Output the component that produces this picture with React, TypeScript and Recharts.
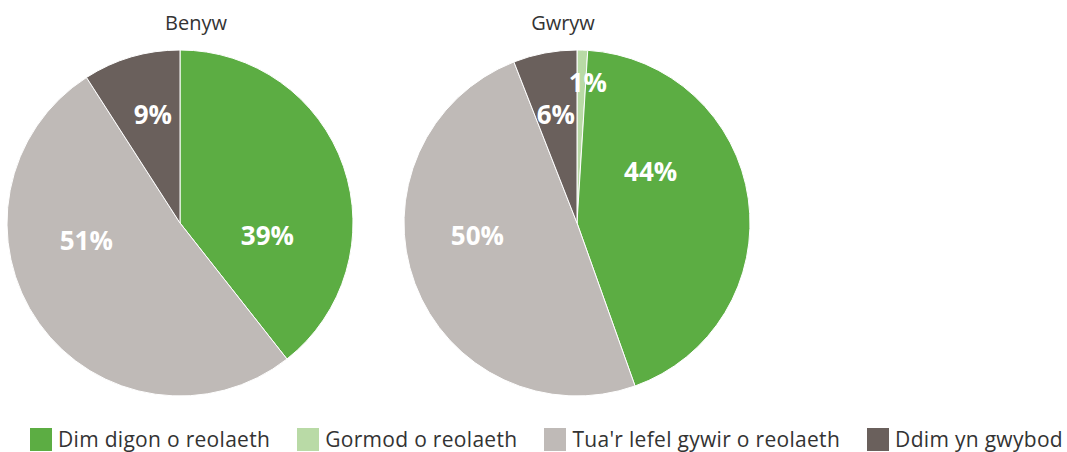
import React from "react";

// Library
import { PieChart, Pie, Cell, Legend } from "recharts";

const categories = [
  "Gormod o reolaeth",
  "Dim digon o reolaeth",
  "Tua'r lefel gywir o reolaeth",
  "Ddim yn gwybod",
];
const legendOrder = [1, 0, 2, 3];
const benywValues = [0, 39, 51, 9];
const gwrywValues = [1, 44, 50, 6];
const pieTitles = ["Benyw", "Gwryw"];

const colors = ["#b9daa6", "#5cad43", "#bfbab7", "#6a605c"];

// label placement: [angle clockwise from 12 o'clock, fraction of radius]
const labelLayout: number[][][] = [
  [[0, 0], [98, 0.51], [260, 0.55], [346, 0.65]],
  [[4.4, 0.82], [55, 0.52], [263, 0.58], [349, 0.64]],
];

const FONT = "'Open Sans', 'Noto Sans', sans-serif";
const RADIUS = 173;

const toRows = (values: number[]) =>
  categories.map((name, i) => ({ name, value: values[i] }));

function makeLabel(pieIndex: number) {
  return (props: any) => {
    const { cx, cy, index, value } = props;
    if (!value) return null;
    const [deg, frac] = labelLayout[pieIndex][index];
    const rad = (deg * Math.PI) / 180;
    const x = cx + Math.sin(rad) * RADIUS * frac;
    const y = cy - Math.cos(rad) * RADIUS * frac;
    return (
      <text
        x={x}
        y={y}
        fill="#ffffff"
        fontFamily={FONT}
        fontSize={26}
        fontWeight={700}
        textAnchor="middle"
        dominantBaseline="central"
      >
        {value}%
      </text>
    );
  };
}

function LegendBox() {
  return (
    <div
      style={{
        display: "flex",
        justifyContent: "space-between",
        padding: "0 4px 0 30px",
        fontFamily: FONT,
        fontSize: 21,
        letterSpacing: 0.3,
        color: "#333333",
      }}
    >
      {legendOrder.map((i) => (
        <div key={i} style={{ display: "flex", alignItems: "center" }}>
          <span
            style={{
              width: 22,
              height: 23,
              background: colors[i],
              marginRight: 6,
              display: "inline-block",
            }}
          />
          <span style={{ lineHeight: "23px" }}>{categories[i]}</span>
        </div>
      ))}
    </div>
  );
}

export default function App() {
  const pies = [benywValues, gwrywValues];
  const centers = [180, 577];
  return (
    <div style={{ position: "absolute", left: 0, top: 0 }}>
      <PieChart
        width={1067}
        height={452}
        margin={{ top: 0, right: 0, bottom: 0, left: 0 }}
      >
        {pieTitles.map((t, i) => (
          <text
            key={t}
            x={centers[i] + (i === 0 ? 16 : -14)}
            y={22}
            textAnchor="middle"
            dominantBaseline="central"
            fontFamily={FONT}
            fontSize={20}
            fill="#333333"
          >
            {t}
          </text>
        ))}
        {pies.map((vals, p) => (
          <Pie
            key={p}
            data={toRows(vals)}
            dataKey="value"
            nameKey="name"
            cx={centers[p]}
            cy={223}
            outerRadius={RADIUS}
            startAngle={90}
            endAngle={-270}
            stroke="#ffffff"
            strokeWidth={1}
            label={makeLabel(p)}
            labelLine={false}
            isAnimationActive={false}
          >
            {vals.map((_, i) => (
              <Cell key={i} fill={colors[i]} />
            ))}
          </Pie>
        ))}
        <Legend
          layout="horizontal"
          verticalAlign="bottom"
          wrapperStyle={{ left: 0, width: 1067, bottom: 1 }}
          content={() => <LegendBox />}
        />
      </PieChart>
    </div>
  );
}
